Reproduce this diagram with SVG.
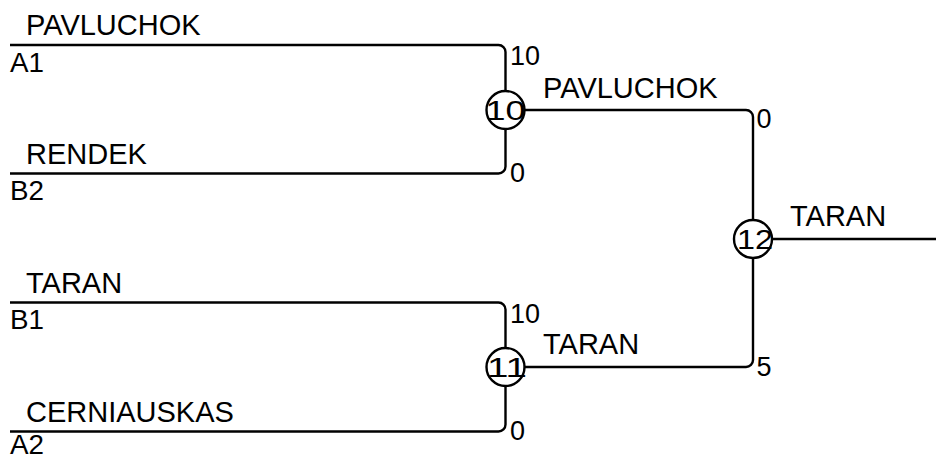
<svg xmlns="http://www.w3.org/2000/svg" width="936" height="455" viewBox="0 0 936 455">
<style>
  .ln { fill: none; stroke: #000; stroke-width: 2.4; }
  .nd { fill: #fff; stroke: #000; stroke-width: 2.4; }
  .name { font-family: "Liberation Sans", Arial, sans-serif; font-size: 29px; fill: #000; }
  .seed { font-family: "Liberation Sans", Arial, sans-serif; font-size: 27px; fill: #000; }
  .score { font-family: "Liberation Sans", Arial, sans-serif; font-size: 27px; fill: #000; }
  .num { font-family: "Liberation Sans", Arial, sans-serif; font-size: 28px; fill: #000; text-anchor: middle; }
</style>
<rect width="936" height="455" fill="#fff"/>
<g id="connectors">
  <path class="ln" d="M10,45 H498.5 A7,7 0 0 1 505.5,52 V91"/>
  <path class="ln" d="M10,173.5 H498.5 A7,7 0 0 0 505.5,166.5 V129"/>
  <path class="ln" d="M10,302.5 H498.5 A7,7 0 0 1 505.5,309.5 V348"/>
  <path class="ln" d="M10,431.5 H498.5 A7,7 0 0 0 505.5,424.5 V386"/>
  <path class="ln" d="M524.5,110 H746 A7,7 0 0 1 753,117 V220"/>
  <path class="ln" d="M524.5,367 H746 A7,7 0 0 0 753,360 V258"/>
  <path class="ln" d="M772,239 H936"/>
</g>
<g id="entry-a1">
  <text class="name" x="26" y="35">PAVLUCHOK</text>
  <text class="seed" x="10" y="71.5" textLength="34" lengthAdjust="spacingAndGlyphs">A1</text>
  <text class="score" x="510" y="65">10</text>
</g>
<g id="entry-b2">
  <text class="name" x="26" y="163.5">RENDEK</text>
  <text class="seed" x="10" y="200" textLength="34" lengthAdjust="spacingAndGlyphs">B2</text>
  <text class="score" x="510" y="181.5">0</text>
</g>
<g id="entry-b1">
  <text class="name" x="26" y="292.5">TARAN</text>
  <text class="seed" x="10" y="329" textLength="34" lengthAdjust="spacingAndGlyphs">B1</text>
  <text class="score" x="510" y="322.5">10</text>
</g>
<g id="entry-a2">
  <text class="name" x="26" y="421.5">CERNIAUSKAS</text>
  <text class="seed" x="10" y="454" textLength="34" lengthAdjust="spacingAndGlyphs">A2</text>
  <text class="score" x="510" y="439.5">0</text>
</g>
<g id="match-10">
  <circle class="nd" cx="505.5" cy="110" r="19"/>
  <text class="num" x="505.5" y="120" textLength="40" lengthAdjust="spacingAndGlyphs">10</text>
  <text class="name" x="543" y="97.5">PAVLUCHOK</text>
  <text class="score" x="756.5" y="128">0</text>
</g>
<g id="match-11">
  <circle class="nd" cx="505.5" cy="367" r="19"/>
  <text class="num" x="507" y="377" textLength="40" lengthAdjust="spacingAndGlyphs">11</text>
  <text class="name" x="543" y="354">TARAN</text>
  <text class="score" x="756.5" y="376">5</text>
</g>
<g id="match-12">
  <circle class="nd" cx="753" cy="239" r="19"/>
  <text class="num" x="755" y="249" textLength="36" lengthAdjust="spacingAndGlyphs">12</text>
  <text class="name" x="790" y="226">TARAN</text>
</g>
</svg>
